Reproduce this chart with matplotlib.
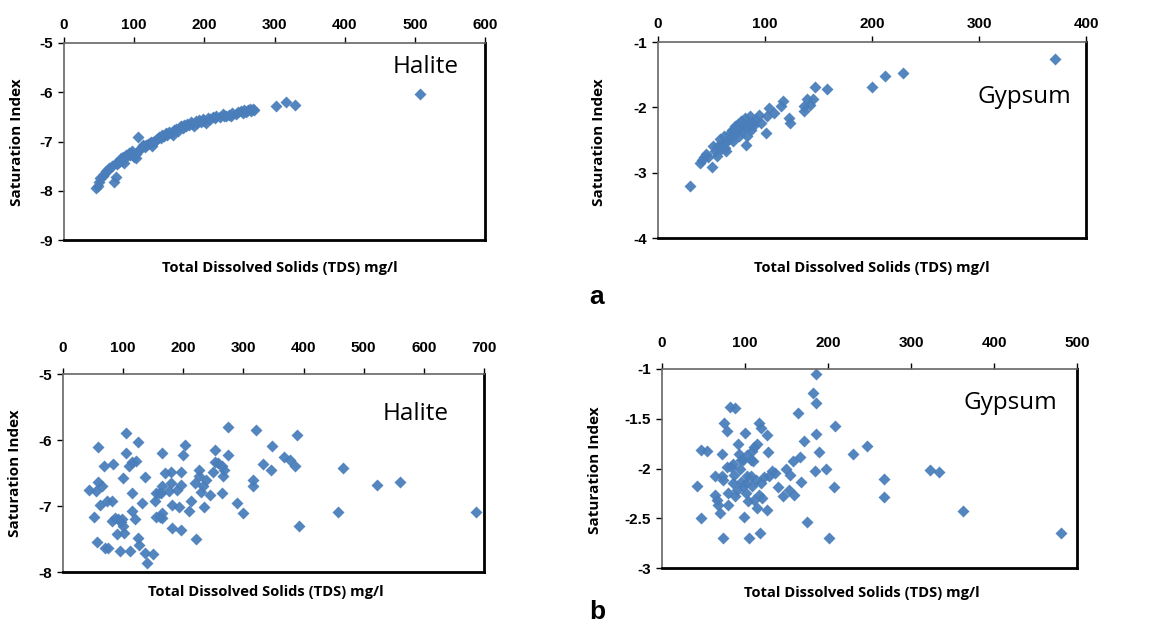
import matplotlib
matplotlib.use("Agg")
import matplotlib.pyplot as plt

# panel a, halite
halite_a_tds = [45, 48, 50, 52, 55, 57, 60, 62, 64, 68, 71, 74, 74, 76, 78, 80, 81, 83, 84, 86,
                88, 90, 92, 94, 95, 97, 98, 100, 102, 103, 106, 108, 110, 112, 113, 115, 117,
                120, 122, 124, 126, 127, 129, 131, 133, 136, 138, 140, 142, 145, 147, 150, 152,
                155, 157, 160, 162, 165, 167, 169, 171, 174, 176, 178, 181, 183, 185, 188, 190,
                193, 195, 198, 200, 202, 205, 208, 212, 215, 217, 222, 226, 228, 231, 235, 238,
                240, 245, 248, 252, 255, 257, 260, 262, 265, 267, 269, 271, 302, 317, 329, 507]
halite_a_si = [-7.94, -7.90, -7.82, -7.75, -7.70, -7.65, -7.60, -7.58, -7.53, -7.50, -7.82, -7.72,
               -7.44, -7.45, -7.41, -7.38, -7.34, -7.40, -7.31, -7.44, -7.27, -7.30, -7.24, -7.28,
               -7.23, -7.20, -7.27, -7.31, -7.25, -7.34, -6.90, -7.15, -7.14, -7.08, -7.10, -7.12,
               -7.07, -7.05, -7.03, -7.00, -7.10, -7.00, -6.98, -6.97, -6.95, -6.90, -6.92, -6.86,
               -6.88, -6.83, -6.86, -6.80, -6.82, -6.86, -6.77, -6.75, -6.78, -6.71, -6.69, -6.72,
               -6.66, -6.68, -6.64, -6.67, -6.61, -6.64, -6.69, -6.58, -6.62, -6.56, -6.60, -6.54,
               -6.59, -6.62, -6.52, -6.55, -6.50, -6.53, -6.49, -6.51, -6.45, -6.48, -6.49, -6.46,
               -6.49, -6.43, -6.44, -6.40, -6.39, -6.42, -6.37, -6.40, -6.37, -6.35, -6.38, -6.35,
               -6.36, -6.28, -6.20, -6.26, -6.03]

# panel a, gypsum
gypsum_a_tds = [30, 39, 41, 43, 45, 47, 50, 51, 53, 55, 56, 58, 59, 60, 61, 62, 63, 64, 65, 66,
                67, 68, 69, 70, 71, 72, 73, 74, 75, 76, 77, 78, 79, 80, 81, 82, 83, 84, 85, 86,
                87, 88, 89, 90, 92, 94, 96, 101, 102, 104, 108, 115, 117, 122, 123, 136, 136,
                139, 142, 145, 147, 158, 200, 212, 229, 371]
gypsum_a_si = [-3.20, -2.85, -2.80, -2.76, -2.72, -2.76, -2.92, -2.59, -2.67, -2.75, -2.59, -2.49,
               -2.64, -2.57, -2.54, -2.44, -2.62, -2.67, -2.50, -2.49, -2.39, -2.45, -2.34, -2.52,
               -2.38, -2.29, -2.39, -2.33, -2.26, -2.44, -2.30, -2.21, -2.35, -2.29, -2.17, -2.57,
               -2.44, -2.24, -2.30, -2.14, -2.34, -2.22, -2.24, -2.27, -2.19, -2.11, -2.24, -2.39,
               -2.14, -2.01, -2.09, -1.98, -1.91, -2.16, -2.24, -2.06, -1.98, -1.88, -1.96, -1.88,
               -1.69, -1.72, -1.69, -1.52, -1.47, -1.26]

# panel b, halite
halite_b_tds = [44, 52, 55, 56, 59, 61, 58, 65, 69, 70, 75, 73, 81, 83, 82, 86, 89, 92, 95, 97,
                98, 100, 101, 100, 104, 104, 109, 111, 114, 115, 115, 119, 121, 125, 125, 126,
                131, 136, 137, 139, 149, 153, 155, 155, 159, 161, 163, 164, 164, 165, 165, 170,
                179, 180, 177, 181, 182, 189, 193, 196, 197, 197, 199, 203, 210, 212, 219, 221,
                226, 226, 229, 232, 234, 237, 244, 250, 252, 252, 258, 264, 265, 266, 267, 274,
                275, 290, 300, 316, 316, 321, 332, 346, 348, 367, 378, 385, 389, 393, 458, 465,
                522, 560, 687]
halite_b_si = [-6.75, -7.16, -6.78, -7.55, -6.10, -6.98, -6.64, -6.69, -6.39, -7.64, -7.63, -6.93,
               -6.92, -6.36, -7.23, -7.18, -7.43, -7.19, -7.68, -7.24, -7.20, -7.30, -7.41, -6.58,
               -5.90, -6.19, -6.40, -7.68, -6.34, -6.80, -7.07, -7.19, -6.32, -6.03, -7.48, -7.59,
               -6.95, -6.56, -7.71, -7.87, -7.73, -6.92, -6.80, -7.16, -6.81, -7.16, -6.81, -6.70,
               -7.18, -7.11, -6.19, -6.50, -6.48, -6.65, -6.78, -6.99, -7.34, -6.76, -7.01, -7.36,
               -6.49, -6.68, -6.23, -6.07, -7.07, -6.92, -6.65, -7.50, -6.46, -6.55, -6.79, -6.70,
               -7.02, -6.60, -6.83, -6.49, -6.15, -6.34, -6.35, -6.39, -6.80, -6.54, -6.46, -5.81,
               -6.23, -6.95, -7.11, -6.61, -6.69, -5.85, -6.36, -6.45, -6.09, -6.26, -6.30, -6.40,
               -5.92, -7.31, -7.09, -6.42, -6.68, -6.63, -7.09]

# panel b, gypsum
gypsum_b_tds = [42, 47, 47, 54, 64, 64, 66, 68, 70, 72, 72, 74, 73, 75, 78, 78, 79, 80, 82, 83,
                85, 86, 87, 88, 88, 90, 92, 93, 94, 95, 95, 97, 98, 99, 100, 101, 101, 103, 103,
                104, 105, 107, 107, 108, 109, 110, 111, 111, 113, 115, 115, 117, 117, 118, 119,
                119, 121, 123, 126, 127, 128, 129, 132, 136, 140, 146, 149, 153, 154, 158, 159,
                164, 166, 168, 171, 175, 182, 184, 185, 186, 186, 189, 198, 201, 207, 208, 230,
                247, 268, 268, 323, 334, 363, 481]
gypsum_b_si = [-2.18, -1.81, -2.50, -1.82, -2.08, -2.27, -2.32, -2.37, -2.45, -1.85, -2.08, -2.12,
               -2.70, -1.54, -1.62, -1.98, -2.25, -2.37, -1.38, -1.98, -1.95, -2.15, -2.07, -1.39,
               -2.28, -2.22, -1.75, -1.85, -2.01, -1.91, -2.14, -2.18, -1.91, -2.49, -1.64, -2.15,
               -2.25, -2.08, -1.86, -2.33, -2.70, -1.91, -2.08, -2.18, -1.82, -1.92, -1.78, -2.32,
               -2.12, -1.75, -2.40, -1.54, -2.27, -2.65, -1.59, -2.15, -2.30, -2.09, -1.66, -2.42,
               -1.83, -2.08, -2.03, -2.05, -2.19, -2.28, -2.01, -2.22, -2.07, -1.92, -2.27, -1.44,
               -1.88, -2.14, -1.72, -2.54, -1.24, -2.03, -1.05, -1.34, -1.65, -1.83, -2.01, -2.70,
               -2.19, -1.57, -1.85, -1.77, -2.11, -2.29, -2.02, -2.04, -2.43, -2.65]

marker_color = "#4a7ebb"
W, H = 1150, 632

fig = plt.figure(figsize=(11.5, 6.32), dpi=100)


def box(l, t, r, b):
    return [l / W, 1 - b / H, (r - l) / W, (b - t) / H]


def panel(rect, x, y, xlim, xstep, ylim, ystep, name, name_pos, ms, xpad):
    ax = fig.add_axes(rect)
    ax.plot(x, y, "D", color=marker_color, ms=ms, mec="none", alpha=0.95)
    ax.set_xlim(*xlim)
    ax.set_ylim(*ylim)
    xt = list(range(xlim[0], xlim[1] + 1, xstep))
    ax.set_xticks(xt)
    yt = []
    v = ylim[0]
    while v <= ylim[1] + 1e-9:
        yt.append(round(v, 2))
        v += ystep
    ax.set_yticks(yt)
    ax.set_yticklabels([("%g" % t) for t in yt])
    ax.xaxis.tick_top()
    ax.tick_params(axis="x", direction="out", length=4, width=1, pad=xpad, labelsize=11)
    ax.tick_params(axis="y", direction="out", length=4, width=1, pad=4, labelsize=11)
    for lab in ax.get_xticklabels() + ax.get_yticklabels():
        lab.set_fontweight("bold")
        lab.set_family("Liberation Sans")
    for s in ["top", "left"]:
        ax.spines[s].set_color("#666666")
        ax.spines[s].set_linewidth(1.2)
    for s in ["bottom", "right"]:
        ax.spines[s].set_color("black")
        ax.spines[s].set_linewidth(2)
    ax.text(name_pos[0], name_pos[1], name, transform=ax.transAxes, fontsize=17.5,
            family="Open Sans", ha="center", va="center")
    return ax


panel(box(64, 43, 485, 240), halite_a_tds, halite_a_si, (0, 600), 100, (-9, -5), 1,
      "Halite", (0.86, 0.878), 6, 4)
panel(box(658, 42, 1086, 238), gypsum_a_tds, gypsum_a_si, (0, 400), 100, (-4, -1), 1,
      "Gypsum", (0.857, 0.72), 6, 4)
panel(box(63, 374, 484, 572), halite_b_tds, halite_b_si, (0, 700), 100, (-8, -5), 1,
      "Halite", (0.838, 0.80), 6.5, 10)
panel(box(662, 369, 1077, 568), gypsum_b_tds, gypsum_b_si, (0, 500), 100, (-3, -1), 0.5,
      "Gypsum", (0.84, 0.83), 6.5, 10)

xlab = "Total Dissolved Solids (TDS) mg/l"
for (px, py) in [(280, 268), (872, 268), (266, 592), (862, 593)]:
    fig.text(px / W, 1 - py / H, xlab, ha="center", va="center", fontsize=10.6,
             fontweight="bold", family="Open Sans")
for (px, py) in [(17, 142), (599, 142), (15, 473), (595, 470)]:
    fig.text(px / W, 1 - py / H, "Saturation Index", ha="center", va="center",
             fontsize=11, fontweight="bold", family="Open Sans", rotation=90)

fig.text(597 / W, 1 - 297 / H, "a", ha="center", va="center", fontsize=19,
         fontweight="bold", family="Liberation Sans")
fig.text(597 / W, 1 - 612 / H, "b", ha="center", va="center", fontsize=19,
         fontweight="bold", family="Liberation Sans")

fig.savefig("out.png", dpi=100, facecolor="white")
